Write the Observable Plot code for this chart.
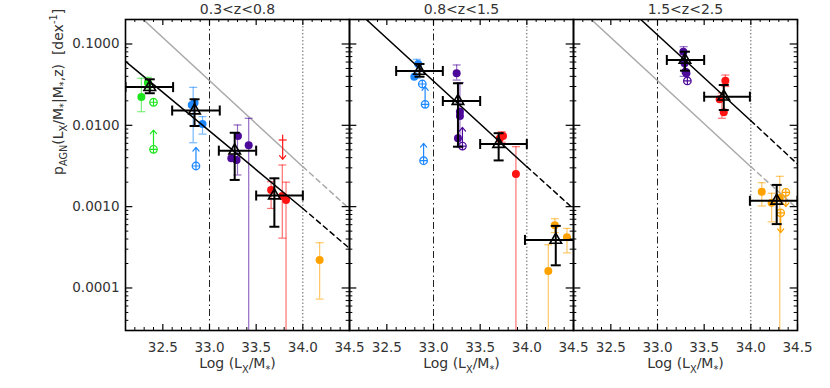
<!DOCTYPE html>
<html><head><meta charset="utf-8">
<script src="https://cdn.jsdelivr.net/npm/d3@7"></script>
<script src="https://cdn.jsdelivr.net/npm/@observablehq/plot@0.6"></script>
<style>body{margin:0;background:#fff} #chart svg{display:block}</style>
</head><body><div id="chart"></div>
<script>
// ---------- data ----------
const panels = ["0.3<z<0.8", "0.8<z<1.5", "1.5<z<2.5"];
const palette = {g: "#1ee61e", b: "#1e88ff", p: "#4d0a9a", r: "#ff1414", o: "#ffa200"};

// filled circles: [panel, colour, logLx/M, p]
const filledPts = [
  [0,"g",32.27,0.0223],[0,"g",32.34,0.0334],
  [0,"b",32.81,0.0178],[0,"b",32.84,0.019],[0,"b",32.925,0.0104],
  [0,"p",33.305,0.00739],[0,"p",33.234,0.00393],[0,"p",33.29,0.00374],[0,"p",33.42,0.00568],
  [0,"r",33.66,0.0016],[0,"r",33.78,0.00135],[0,"r",33.82,0.00121],
  [0,"o",34.18,0.00022],
  [1,"b",32.836,0.0568],[1,"b",32.794,0.0396],
  [1,"p",33.248,0.0436],[1,"p",33.283,0.0147],[1,"p",33.283,0.013],[1,"p",33.262,0.00692],
  [1,"r",33.745,0.00739],[1,"r",33.71,0.0069],[1,"r",33.883,0.00252],
  [1,"o",34.30,0.00059],[1,"o",34.43,0.00042],[1,"o",34.23,0.000162],
  [2,"p",33.277,0.0804],[2,"p",33.29,0.058],[2,"p",33.30,0.0457],[2,"p",33.31,0.0436],
  [2,"r",33.727,0.0354],[2,"r",33.666,0.0209],[2,"r",33.71,0.0145],
  [2,"o",34.117,0.00152],[2,"o",34.223,0.00112],[2,"o",34.31,0.00128]
];
// error bars of coloured points: [panel, colour, x, low, high]
const colourErrs = [
  [0,"g",32.27,0.0147,0.0379],[0,"g",32.34,0.028,0.0389],
  [0,"b",32.825,0.0061,0.0293],[0,"b",32.925,0.0078,0.0128],
  [0,"p",33.3,0.00245,0.0101],[0,"p",33.42,0.00001,0.0122],
  [0,"r",33.66,0.00095,0.00203],[0,"r",33.78,0.00041,0.00325],[0,"r",33.82,0.00001,0.002],
  [0,"o",34.18,0.000073,0.00036],
  [1,"b",32.82,0.038,0.0648],
  [1,"p",33.248,0.036,0.0552],[1,"p",33.283,0.0054,0.0334],
  [1,"r",33.73,0.0062,0.00834],[1,"r",33.883,0.00001,0.00546],
  [1,"o",34.30,0.00048,0.00071],[1,"o",34.43,0.00027,0.00054],[1,"o",34.23,0.00001,0.00034],
  [2,"p",33.28,0.04,0.0926],
  [2,"r",33.727,0.03,0.0415],[2,"r",33.69,0.0122,0.025],
  [2,"o",34.117,0.00102,0.00197],[2,"o",34.223,0.00065,0.00146],[2,"o",34.31,0.00001,0.00236]
];
// open crossed circles: [panel, colour, x, p]
const crossedPts = [
  [0,"g",32.40,0.0192],[0,"g",32.40,0.00507],[0,"b",32.855,0.00316],
  [1,"b",32.88,0.0322],[1,"b",32.91,0.0181],[1,"b",32.894,0.00367],[1,"p",33.31,0.00556],
  [2,"p",33.32,0.0351],[2,"o",34.375,0.0015],[2,"o",34.32,0.00084]
];
// limit arrows: [panel, colour, x, from, to]
const limitArrows = [
  [0,"g",32.40,0.00507,0.00875],[0,"b",32.855,0.00316,0.00536],
  [1,"b",32.91,0.0181,0.0299],[1,"b",32.894,0.00367,0.006],[1,"p",33.31,0.00556,0.00944],
  [0,"r",33.784,0.0085,0.00382],
  [2,"o",34.375,0.0015,0.001],[2,"o",34.32,0.00084,0.00048]
];
const limitBars = [[0,"r",33.784,0.0066]];
// binned means (triangles): [panel, x, p, xlow, xhigh, plow, phigh]
const binned = [
  [0,32.36,0.0295,32.1,32.61,0.0248,0.0368],
  [0,32.84,0.0152,32.60,33.11,0.0098,0.0209],
  [0,33.27,0.00488,33.10,33.50,0.00213,0.0081],
  [0,33.695,0.00137,33.5,34.0,0.000566,0.00223],
  [1,32.85,0.0466,32.6,33.1,0.0396,0.0568],
  [1,33.262,0.0199,33.1,33.5,0.00546,0.0329],
  [1,33.698,0.00589,33.5,34.0,0.0037,0.008],
  [1,34.31,0.00039,33.98,34.6,0.00019,0.00058],
  [2,33.294,0.0636,33.1,33.5,0.047,0.0804],
  [2,33.71,0.0225,33.5,33.99,0.0154,0.0313],
  [2,34.277,0.00118,33.99,34.5,0.00061,0.00185]
];
// best-fit lines: [panel, x, p]
const fitSolid = [[0,32.1,0.0612],[0,34.0,0.00095],[1,32.28,0.2],[1,34.0,0.0031],[2,32.82,0.2],[2,34.0,0.0114]];
const fitDashed = [[0,34.0,0.00095],[0,34.5,0.000307],[1,34.0,0.0031],[1,34.5,0.00094],[2,34.0,0.0114],[2,34.5,0.00334]];
// comparison (0.8<z<1.5 fit) in grey
const refSolid = [[0,32.29,0.2],[0,34.0,0.0031],[2,32.29,0.2],[2,34.0,0.0031]];
const refDashed = [[0,34.0,0.0031],[0,34.5,0.00094],[2,34.0,0.0031],[2,34.5,0.00094]];
const refLines = [33.0, 34.0];
// axes
const yMajor = [1e-4, 1e-3, 1e-2, 1e-1];
const yMinor = [4e-5,5e-5,6e-5,7e-5,8e-5,9e-5,2e-4,3e-4,4e-4,5e-4,6e-4,7e-4,8e-4,9e-4,
  2e-3,3e-3,4e-3,5e-3,6e-3,7e-3,8e-3,9e-3,2e-2,3e-2,4e-2,5e-2,6e-2,7e-2,8e-2,9e-2,0.2];
const xMajor = [32.5, 33.0, 33.5, 34.0, 34.5];
const xMinor = [32.2,32.3,32.4,32.6,32.7,32.8,32.9,33.1,33.2,33.3,33.4,33.6,33.7,33.8,33.9,34.1,34.2,34.3,34.4];
const YLABEL = "pAGN(LX/M*|M*,z)  [dex-1]";
const XLABEL = "Log (LX/M*)";

// ---------- layout ----------
const W = 830, H = 388, ML = 124, MR = 32, MT = 19, MB = 58;
const FW = (W - ML - MR) / 3, FH = H - MT - MB;

const P = (r) => panels[r[0]];
const C = (r) => palette[r[1]];
const hcap = {draw(ctx, size) { const r = Math.sqrt(size / Math.PI); ctx.moveTo(-r, 0); ctx.lineTo(r, 0); }};
const vcap = {draw(ctx, size) { const r = Math.sqrt(size / Math.PI); ctx.moveTo(0, -r); ctx.lineTo(0, r); }};
const oplus = {draw(ctx, size) { const r = Math.sqrt(size / Math.PI);
  ctx.moveTo(r, 0); ctx.arc(0, 0, r, 0, 2 * Math.PI);
  ctx.moveTo(-r, 0); ctx.lineTo(r, 0); ctx.moveTo(0, -r); ctx.lineTo(0, r); }};

const capsLo = colourErrs.map(r => [r[0], r[1], r[2], r[3]]);
const capsHi = colourErrs.map(r => [r[0], r[1], r[2], r[4]]);

const plot = Plot.plot({
  width: W, height: H,
  marginLeft: ML, marginRight: MR, marginTop: MT, marginBottom: MB,
  style: {fontFamily: "DejaVu Sans", fontSize: "13px", color: "#333", background: "#fff"},
  x: {domain: [32.1, 34.5]},
  y: {type: "log", domain: [3e-5, 0.2]},
  fx: {domain: panels, padding: 0, axis: null},
  marks: [
    // reference verticals
    Plot.ruleX([refLines[0]], {stroke: "#222", strokeWidth: 1, strokeDasharray: "7,3,1.5,3"}),
    Plot.ruleX([refLines[1]], {stroke: "#666", strokeWidth: 1, strokeDasharray: "1.5,2"}),
    // grey comparison line
    Plot.line(refSolid, {fx: P, x: r => r[1], y: r => r[2], stroke: "#aaa", strokeWidth: 1.5, clip: true}),
    Plot.line(refDashed, {fx: P, x: r => r[1], y: r => r[2], stroke: "#aaa", strokeWidth: 1.5, strokeDasharray: "5,4", clip: true}),
    // coloured error bars
    Plot.ruleX(colourErrs, {fx: P, x: r => r[2], y1: r => r[3], y2: r => r[4], stroke: C, strokeOpacity: 0.6, strokeWidth: 1.2, clip: true}),
    Plot.dot(capsLo, {fx: P, x: r => r[2], y: r => r[3], symbol: hcap, r: 4, stroke: C, strokeOpacity: 0.6, strokeWidth: 1.2, clip: true}),
    Plot.dot(capsHi, {fx: P, x: r => r[2], y: r => r[3], symbol: hcap, r: 4, stroke: C, strokeOpacity: 0.6, strokeWidth: 1.2, clip: true}),
    // limits
    Plot.arrow(limitArrows, {fx: P, x1: r => r[2], x2: r => r[2], y1: r => r[3], y2: r => r[4], stroke: C, strokeWidth: 1.2, headLength: 6, headAngle: 80, insetStart: 4, clip: true}),
    Plot.dot(limitBars, {fx: P, x: r => r[2], y: r => r[3], symbol: hcap, r: 4, stroke: C, strokeWidth: 1.2}),
    // coloured points
    Plot.dot(filledPts, {fx: P, x: r => r[2], y: r => r[3], r: 4, fill: C, stroke: "none", clip: true}),
    Plot.dot(crossedPts, {fx: P, x: r => r[2], y: r => r[3], symbol: oplus, r: 3.8, stroke: C, strokeWidth: 1.2, fill: "none", clip: true}),
    // best fits
    Plot.line(fitSolid, {fx: P, x: r => r[1], y: r => r[2], stroke: "#000", strokeWidth: 1.5, clip: true}),
    Plot.line(fitDashed, {fx: P, x: r => r[1], y: r => r[2], stroke: "#000", strokeWidth: 1.5, strokeDasharray: "5,4", clip: true}),
    // binned triangles with errors
    Plot.ruleY(binned, {fx: P, y: r => r[2], x1: r => r[3], x2: r => r[4], stroke: "#000", strokeWidth: 2, clip: true}),
    Plot.ruleX(binned, {fx: P, x: r => r[1], y1: r => r[5], y2: r => r[6], stroke: "#000", strokeWidth: 2, clip: true}),
    Plot.dot(binned, {fx: P, x: r => r[3], y: r => r[2], symbol: vcap, r: 5, stroke: "#000", strokeWidth: 2, clip: true}),
    Plot.dot(binned, {fx: P, x: r => r[4], y: r => r[2], symbol: vcap, r: 5, stroke: "#000", strokeWidth: 2, clip: true}),
    Plot.dot(binned, {fx: P, x: r => r[1], y: r => r[5], symbol: hcap, r: 5, stroke: "#000", strokeWidth: 2, clip: true}),
    Plot.dot(binned, {fx: P, x: r => r[1], y: r => r[6], symbol: hcap, r: 5, stroke: "#000", strokeWidth: 2, clip: true}),
    Plot.dot(binned, {fx: P, x: r => r[1], y: r => r[2], symbol: "triangle", r: 4.3, stroke: "#000", fill: "none", strokeWidth: 1.6}),
    // inward tick marks
    Plot.tickY(yMajor, {y: d => d, insetRight: FW - 8, stroke: "#000", strokeWidth: 1.2}),
    Plot.tickY(yMajor, {y: d => d, insetLeft: FW - 8, stroke: "#000", strokeWidth: 1.2}),
    Plot.tickY(yMinor, {y: d => d, insetRight: FW - 4, stroke: "#000", strokeWidth: 1}),
    Plot.tickY(yMinor, {y: d => d, insetLeft: FW - 4, stroke: "#000", strokeWidth: 1}),
    Plot.tickX(xMajor, {x: d => d, insetTop: FH - 6, stroke: "#000", strokeWidth: 1.2}),
    Plot.tickX(xMajor, {x: d => d, insetBottom: FH - 6, stroke: "#000", strokeWidth: 1.2}),
    Plot.tickX(xMinor, {x: d => d, insetTop: FH - 3, stroke: "#000", strokeWidth: 1}),
    Plot.tickX(xMinor, {x: d => d, insetBottom: FH - 3, stroke: "#000", strokeWidth: 1}),
    Plot.frame({stroke: "#000", strokeWidth: 1.6}),
    // axes
    Plot.axisY({ticks: yMajor, tickFormat: d => d.toFixed(4), tickSize: 0, tickPadding: 6, label: null, fontSize: 13.5}),
    Plot.axisX({ticks: xMajor, tickFormat: d => d.toFixed(1), tickSize: 0, tickPadding: 12, label: null, fontSize: 13.5}),
    // titles & labels
    Plot.text(panels, {fx: d => d, text: d => d, frameAnchor: "top", lineAnchor: "middle", dy: -10, fontSize: 14, fill: "#333"}),
    Plot.text(panels, {fx: d => d, text: () => XLABEL, frameAnchor: "bottom", lineAnchor: "middle", dy: 33.5, fontSize: 14, fill: "#333"}),
    Plot.text([panels[0]], {fx: d => d, text: () => YLABEL, frameAnchor: "left", lineAnchor: "middle", rotate: -90, dx: -67, fontSize: 14, fill: "#333"})
  ]
});

// sub/superscripts in the axis labels
function rich(el, parts, base) {
  el.textContent = "";
  let shift = 0;
  for (const [s, mode] of parts) {
    const t = document.createElementNS("http://www.w3.org/2000/svg", "tspan");
    const target = mode === "sub" ? 0.3 : mode === "sup" ? -0.45 : 0;
    t.setAttribute("dy", ((target - shift) * base) + "px");
    if (mode) t.setAttribute("font-size", (base * 0.7) + "px");
    shift = target;
    t.textContent = s;
    el.appendChild(t);
  }
}
for (const t of plot.querySelectorAll("text")) {
  if (t.textContent === YLABEL) {
    rich(t, [["p",""],["AGN","sub"],["(L",""],["X","sub"],["/M",""],["*","sub"],["|M",""],["*","sub"],[",z)  [dex",""],["-1","sup"],["]",""]], 14);
  } else if (t.textContent === XLABEL) {
    rich(t, [["Log (L",""],["X","sub"],["/M",""],["*","sub"],[")",""]], 14);
  }
}
document.getElementById("chart").appendChild(plot);
</script>
</body></html>
